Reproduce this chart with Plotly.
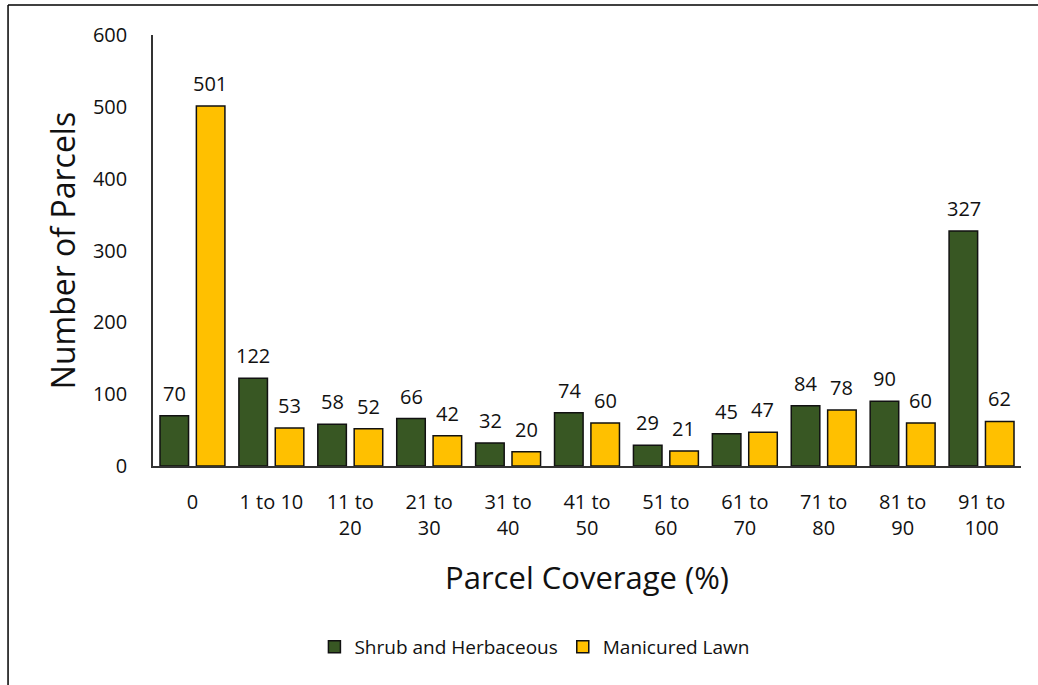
import plotly.graph_objects as go

categories = ["0", "1 to 10", "11 to<br>20", "21 to<br>30", "31 to<br>40", "41 to<br>50",
              "51 to<br>60", "61 to<br>70", "71 to<br>80", "81 to<br>90", "91 to<br>100"]
shrub = [70, 122, 58, 66, 32, 74, 29, 45, 84, 90, 327]
lawn = [501, 53, 52, 42, 20, 60, 21, 47, 78, 60, 62]
y_ticks = [0, 100, 200, 300, 400, 500, 600]

FONT = "Open Sans"
fig = go.Figure()
fig.add_trace(go.Bar(x=categories, y=shrub, name="Shrub and Herbaceous",
                     marker=dict(color="#385723", line=dict(color="#111111", width=1.5))))
fig.add_trace(go.Bar(x=categories, y=lawn, name="Manicured Lawn",
                     marker=dict(color="#FFC000", line=dict(color="#111111", width=1.5))))

for vals, sh in ((shrub, -18), (lawn, 18)):
    for c, v in zip(categories, vals):
        fig.add_annotation(x=c, y=v, text=str(v), showarrow=False, xshift=sh, yshift=7,
                           yanchor="bottom", font=dict(size=20, color="#111111", family=FONT))

fig.add_shape(type="line", xref="paper", yref="paper", x0=-0.167, x1=1.2, y0=1.0696, y1=1.0696,
              line=dict(color="black", width=1.5))
fig.add_shape(type="line", xref="paper", yref="paper", x0=-0.167, x1=-0.167, y0=1.0696, y1=-0.7,
              line=dict(color="black", width=1.5))

fig.update_layout(
    width=1038, height=685,
    margin=dict(l=153, r=17, t=35, b=219),
    plot_bgcolor="white", paper_bgcolor="white",
    barmode="group", bargap=0.078, bargroupgap=0.215,
    font=dict(family=FONT, color="#111111"),
    showlegend=True,
    legend=dict(orientation="h", x=0.44, xanchor="center", y=-0.42, yanchor="middle",
                font=dict(size=19, family=FONT), itemwidth=30, traceorder="normal"),
    xaxis=dict(showline=True, linecolor="#333333", linewidth=1.5, ticks="",
               tickfont=dict(size=20, family=FONT), ticklabelstandoff=17,
               title=dict(text="Parcel Coverage (%)", font=dict(size=31, family=FONT), standoff=28)),
    yaxis=dict(range=[0, 600], tickvals=y_ticks, showline=True, linecolor="#333333", linewidth=1.5,
               showgrid=False, zeroline=False, ticks="", tickfont=dict(size=20, family=FONT),
               ticklabelstandoff=20,
               title=dict(text="Number of Parcels", font=dict(size=32, family=FONT), standoff=8)),
)
fig.write_html("out.html")
